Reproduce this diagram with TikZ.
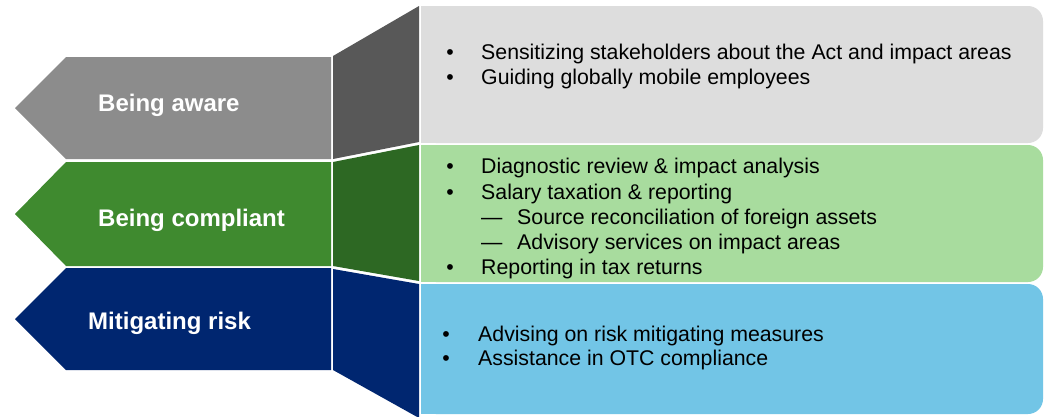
\documentclass[tikz,border=0pt]{standalone}
\usepackage{fontspec}
\setmainfont{Liberation Sans}
\definecolor{grayA}{RGB}{140,140,140}
\definecolor{grayT}{RGB}{88,88,88}
\definecolor{grayB}{RGB}{221,221,221}
\definecolor{greenA}{RGB}{63,138,47}
\definecolor{greenT}{RGB}{45,104,35}
\definecolor{greenB}{RGB}{168,220,158}
\definecolor{navyA}{RGB}{0,38,112}
\definecolor{blueB}{RGB}{114,197,230}
\begin{document}
\begin{tikzpicture}[x=1pt,y=-1pt,
  lbl/.style={anchor=base west,inner sep=0pt,text=white,font=\fontsize{24}{29}\selectfont\bfseries},
  txt/.style={anchor=base west,inner sep=0pt,text=black,font=\fontsize{21.3}{25}\selectfont},
  bul/.style={anchor=base,inner sep=0pt,text=black,font=\fontsize{21.3}{25}\selectfont}]
\useasboundingbox (0,0) rectangle (1045,416);
\fill[white] (0,0) rectangle (1045,416);
% left arrows
\fill[grayA]  (331,57) -- (66,57) -- (15,108) -- (66,159) -- (331,159) -- cycle;
\fill[greenA] (331,162) -- (66,162) -- (15,214) -- (66,266) -- (331,266) -- cycle;
\fill[navyA]  (331,268) -- (66,268) -- (15,319) -- (66,370) -- (331,370) -- cycle;
% connecting trapezoids
\fill[grayT]  (333,56) -- (419,6) -- (419,142) -- (333,159) -- cycle;
\fill[greenT] (333,162) -- (419,145) -- (419,281) -- (333,266) -- cycle;
\fill[navyA]  (333,269) -- (419,284) -- (419,418) -- (333,370) -- cycle;
% right boxes
\fill[grayB,rounded corners=15pt] (421,6) rectangle (1043,143);
\fill[grayB] (421,6) rectangle (700,143);
\fill[greenB,rounded corners=15pt] (421,145) rectangle (1043,282);
\fill[greenB] (421,145) rectangle (700,282);
\fill[blueB,rounded corners=15pt] (421,284) rectangle (1043,414);
\fill[blueB] (421,284) rectangle (700,414);
% labels
\node[lbl] (aware) at (98,111) {Being aware};
\node[lbl] (compl) at (98,226) {Being compliant};
\node[lbl] (mitig) at (88,329) {Mitigating risk};
% box 1
\node[bul] (a1b) at (450,59) {•};
\node[txt] (a1) at (481,59) {Sensitizing stakeholders about the Act and impact areas};
\node[bul] (a2b) at (450,84) {•};
\node[txt] (a2) at (481,84) {Guiding globally mobile employees};
% box 2
\node[bul] (c1b) at (450,173) {•};
\node[txt] (c1) at (481,173) {Diagnostic review \& impact analysis};
\node[bul] (c2b) at (450,199) {•};
\node[txt] (c2) at (481,199) {Salary taxation \& reporting};
\node[txt] (c3d) at (481,224) {—};
\node[txt] (c3) at (517,224) {Source reconciliation of foreign assets};
\node[txt] (c4d) at (481,249) {—};
\node[txt] (c4) at (517,249) {Advisory services on impact areas};
\node[bul] (c5b) at (450,274) {•};
\node[txt] (c5) at (481,274) {Reporting in tax returns};
% box 3
\node[bul] (m1b) at (446,341) {•};
\node[txt] (m1) at (478,341) {Advising on risk mitigating measures};
\node[bul] (m2b) at (446,365) {•};
\node[txt] (m2) at (478,365) {Assistance in OTC compliance};
\end{tikzpicture}
\end{document}
